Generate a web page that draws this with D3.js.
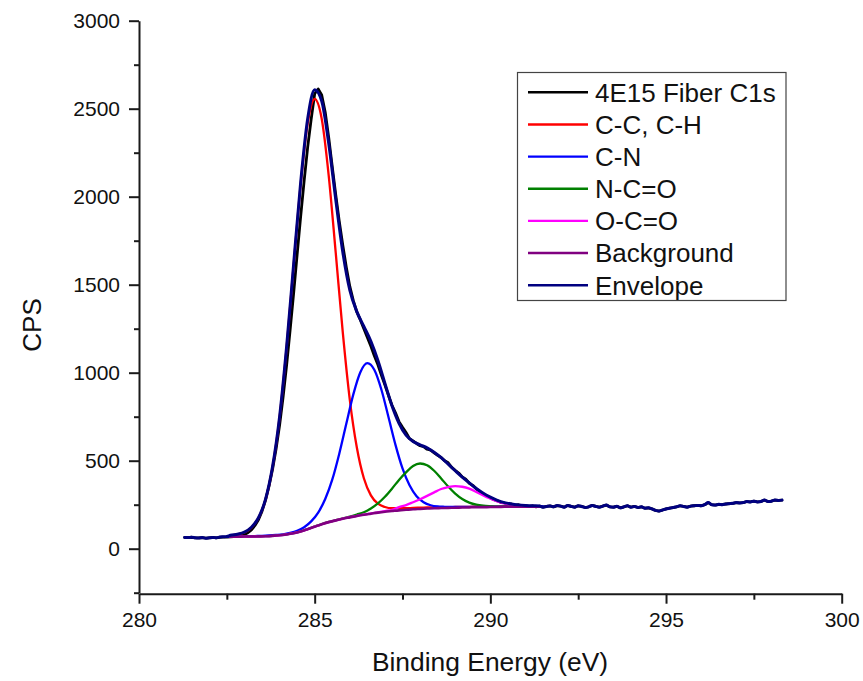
<!DOCTYPE html>
<html>
<head>
<meta charset="utf-8">
<script src="https://cdn.jsdelivr.net/npm/d3@7"></script>
<style>
  body { margin: 0; background: #fff; }
  text { font-family: "Liberation Sans", Arial, Helvetica, sans-serif; fill: #111; }
</style>
</head>
<body>
<svg id="chart" width="863" height="681"></svg>
<script>
// ---- C1s spectrum of the 4E15 fiber: measured counts and peak-fit components ----

// measured spectrum, 281.3 .. 298.3 eV every 0.1 eV
const rawStart = 281.3, rawStep = 0.1;
const rawCounts = [
  64, 63, 65, 62, 61, 63, 60, 62, 64, 62,
  65, 66, 66, 68, 69, 71, 75, 81, 91, 107,
  132, 165, 212, 275, 355, 450, 565, 700, 860, 1040,
  1240, 1450, 1670, 1885, 2090, 2280, 2440, 2585, 2612, 2578,
  2480, 2335, 2170, 2010, 1860, 1725, 1600, 1490, 1410, 1345,
  1300, 1250, 1200, 1150, 1095, 1045, 985, 930, 872, 815,
  772, 722, 690, 660, 625, 612, 598, 585, 580, 565,
  560, 545, 530, 518, 500, 488, 462, 445, 430, 408,
  395, 372, 360, 340, 325, 310, 300, 288, 278, 272,
  262, 260, 252, 254, 246, 250, 243, 245, 240, 244,
  238, 242, 236, 240, 243, 238, 245, 242, 236, 246,
  240, 236, 244, 240, 234, 238, 246, 240, 236, 242,
  248, 238, 236, 241, 232, 238, 244, 236, 240, 234,
  238, 230, 232, 226, 218, 214, 220, 226, 230, 234,
  238, 244, 240, 236, 242, 244, 246, 244, 250, 262,
  250, 248, 252, 250, 254, 256, 258, 262, 260, 262,
  268, 266, 270, 266, 268, 276, 268, 270, 276, 274,
  276
];

// fit window grid: 282.6 .. 291.4 eV every 0.2 eV
const fitStart = 282.6, fitStep = 0.2;
const ccCounts = [
  76, 81, 92, 120, 174, 278, 462, 744, 1140, 1607,
  2066, 2415, 2555, 2443, 2119, 1680, 1229, 846, 575, 400,
  303, 256, 237, 230, 230, 230, 232, 233, 234, 235,
  236, 236, 237, 238, 238, 239, 239, 239, 239, 240,
  240, 240, 241, 241, 241
];
const ncoCounts = [
  68, 68, 69, 69, 70, 71, 73, 77, 82, 89,
  99, 112, 126, 140, 152, 162, 172, 182, 194, 207,
  228, 257, 295, 341, 391, 434, 470, 484, 474, 443,
  399, 353, 313, 282, 262, 250, 244, 241, 239, 239,
  239, 239, 240, 240, 240
];
const ocoCounts = [
  68, 68, 69, 69, 70, 71, 73, 76, 81, 88,
  98, 111, 125, 139, 151, 161, 171, 179, 187, 194,
  200, 207, 214, 221, 236, 248, 264, 281, 300, 320,
  339, 350, 356, 352, 341, 323, 303, 285, 269, 258,
  250, 245, 243, 241, 240
];
const backgroundCounts = [
  68, 68, 69, 69, 70, 71, 73, 76, 81, 88,
  98, 111, 125, 139, 151, 161, 170, 178, 186, 193,
  199, 205, 210, 214, 218, 221, 224, 226, 228, 230,
  231, 232, 233, 234, 235, 236, 236, 237, 237, 238,
  238, 238, 239, 239, 239
];

// C-N component: 282.5 .. 291.5 eV every 0.2 eV
const cnStart = 282.5, cnStep = 0.2;
const cnCounts = [
  69, 70, 70, 71, 72, 73, 75, 78, 82, 90,
  102, 122, 155, 205, 282, 392, 540, 710, 877, 1003,
  1054, 1015, 903, 748, 590, 456, 360, 298, 264, 247,
  240, 238, 237, 237, 238, 238, 238, 238, 239, 239,
  239, 239, 240, 240, 240, 240
];

// envelope: flat ends every 0.1 eV, fitted part every 0.2 eV
const envelopeLowCounts = [64, 63, 65, 62, 61, 63, 60, 62, 64, 62, 66, 68, 70];          // 281.3 .. 282.5
const envelopeFitCounts = [
  76, 82, 94, 122, 176, 280, 465, 748, 1145, 1614,
  2079, 2441, 2608, 2544, 2302, 1984, 1686, 1469, 1347, 1263,
  1178, 1069, 939, 812, 712, 645, 609, 590, 573, 548,
  517, 480, 443, 407, 374, 342, 315, 293, 275, 262,
  254, 249, 246, 244, 243
];                                                                                      // 282.6 .. 291.4
const envelopeHighCounts = [
  236, 240, 243, 238, 245, 242, 236, 246,
  240, 236, 244, 240, 234, 238, 246, 240, 236, 242,
  248, 238, 236, 241, 232, 238, 244, 236, 240, 234,
  238, 230, 232, 226, 218, 214, 220, 226, 230, 234,
  238, 244, 240, 236, 242, 244, 246, 244, 250, 262,
  250, 248, 252, 250, 254, 256, 258, 262, 260, 262,
  268, 266, 270, 266, 268, 276, 268, 270, 276, 274,
  276
];                                                                                      // 291.5 .. 298.3

const xTicks = [280, 285, 290, 295, 300];
const xMinorTicks = [282.5, 287.5, 292.5, 297.5];
const yTicks = [0, 500, 1000, 1500, 2000, 2500, 3000];
const yMinorTicks = [-250, 250, 750, 1250, 1750, 2250, 2750];

const seriesNames = ["4E15 Fiber C1s", "C-C, C-H", "C-N", "N-C=O", "O-C=O", "Background", "Envelope"];
const seriesColors = ["#000000", "#ff0000", "#0000ff", "#008000", "#ff00ff", "#800080", "#000080"];

// ---- helpers ----
const grid = (start, step, n) => d3.range(n).map(i => +(start + i * step).toFixed(2));
const pairs = (xs, ys) => ys.map((v, i) => [xs[i], v]);

const rawEnergy = grid(rawStart, rawStep, rawCounts.length);
const fitEnergy = grid(fitStart, fitStep, ccCounts.length);
const cnEnergy = grid(cnStart, cnStep, cnCounts.length);
const envelopeEnergy = [].concat(
  grid(281.3, 0.1, envelopeLowCounts.length),
  grid(282.6, 0.2, envelopeFitCounts.length),
  grid(291.5, 0.1, envelopeHighCounts.length)
);
const envelopeCounts = [].concat(envelopeLowCounts, envelopeFitCounts, envelopeHighCounts);

// ---- layout ----
const svg = d3.select("#chart");
const x = d3.scaleLinear().domain([280, 300]).range([139, 841.7]);
const y = d3.scaleLinear().domain([-250, 3000]).range([592.7, 20.7]);

const smooth = d3.line().x(d => x(d[0])).y(d => y(d[1])).curve(d3.curveMonotoneX);
const jagged = d3.line().x(d => x(d[0])).y(d => y(d[1]));

const series = [
  { data: pairs(rawEnergy, rawCounts), line: jagged, width: 2.8 },
  { data: pairs(fitEnergy, ccCounts), line: smooth, width: 2.3 },
  { data: pairs(cnEnergy, cnCounts), line: smooth, width: 2.3 },
  { data: pairs(fitEnergy, ncoCounts), line: smooth, width: 2.3 },
  { data: pairs(fitEnergy, ocoCounts), line: smooth, width: 2.3 },
  { data: pairs(fitEnergy, backgroundCounts), line: smooth, width: 2.6 },
  { data: pairs(envelopeEnergy, envelopeCounts), line: smooth, width: 3 }
];

const plot = svg.append("g");
series.forEach((s, i) => {
  plot.append("path")
    .attr("d", s.line(s.data))
    .attr("fill", "none")
    .attr("stroke", seriesColors[i])
    .attr("stroke-width", s.width)
    .attr("stroke-linejoin", "round")
    .attr("stroke-linecap", "round");
});

// ---- axes ----
const axisColor = "#1a1a1a";
function styleAxis(g) {
  g.selectAll("path.domain").attr("stroke", axisColor).attr("stroke-width", 2);
  g.selectAll(".tick line").attr("stroke", axisColor).attr("stroke-width", 2);
  g.selectAll(".tick text").attr("font-size", 21).attr("fill", "#111")
    .attr("font-family", "Liberation Sans, Arial, sans-serif");
}

const xAxis = svg.append("g").attr("transform", "translate(0,593.7)");
xAxis.call(d3.axisBottom(x).tickValues(xMinorTicks).tickFormat("").tickSize(6).tickSizeOuter(0)).call(styleAxis);
xAxis.append("g").call(d3.axisBottom(x).tickValues(xTicks).tickFormat(d3.format("d")).tickSize(10).tickPadding(8).tickSizeOuter(0))
  .call(g => g.select(".domain").remove()).call(styleAxis);

const yAxis = svg.append("g").attr("transform", "translate(139,0)");
yAxis.call(d3.axisLeft(y).tickValues(yMinorTicks).tickFormat("").tickSize(5).tickSizeOuter(0)).call(styleAxis);
yAxis.append("g").call(d3.axisLeft(y).tickValues(yTicks).tickFormat(d3.format("d")).tickSize(10).tickPadding(9).tickSizeOuter(0))
  .call(g => g.select(".domain").remove()).call(styleAxis);

// axis titles
svg.append("text")
  .attr("x", 490).attr("y", 671)
  .attr("text-anchor", "middle")
  .attr("font-size", 26.4)
  .text("Binding Energy (eV)");

svg.append("text")
  .attr("transform", "translate(41,325) rotate(-90)")
  .attr("text-anchor", "middle")
  .attr("font-size", 26)
  .text("CPS");

// ---- legend ----
const legend = svg.append("g");
legend.append("rect")
  .attr("x", 517.5).attr("y", 72.5).attr("width", 268.5).attr("height", 228)
  .attr("fill", "#fff").attr("stroke", "#444").attr("stroke-width", 1.2);

seriesNames.forEach((name, i) => {
  const rowY = 92.3 + i * 32.15;
  legend.append("line")
    .attr("x1", 528).attr("x2", 588).attr("y1", rowY).attr("y2", rowY)
    .attr("stroke", seriesColors[i]).attr("stroke-width", 2.4);
  legend.append("text")
    .attr("x", 595).attr("y", rowY).attr("dy", "0.36em")
    .attr("font-size", 26)
    .text(name);
});
</script>
</body>
</html>
